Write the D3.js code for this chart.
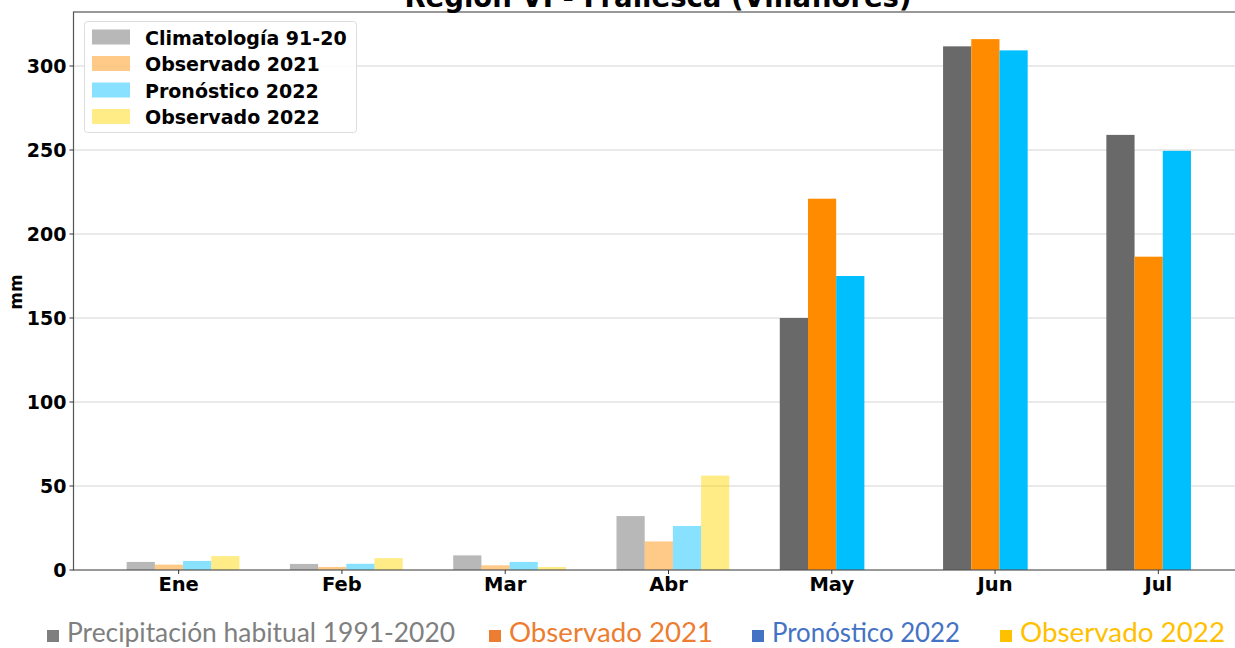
<!DOCTYPE html>
<html>
<head>
<meta charset="utf-8">
<script src="https://cdn.jsdelivr.net/npm/d3@7"></script>
<style>
  body { margin: 0; background: #fff; }
  svg { display: block; }
</style>
</head>
<body>
<svg id="chart" width="1235" height="648"></svg>
<script>
// months on the x axis
const months = ["Ene", "Feb", "Mar", "Abr", "May", "Jun", "Jul"];
// months already observed in 2022 (drawn faded)
const fadedMonths = ["Ene", "Feb", "Mar", "Abr"];

// precipitation in mm
const clim9120 = [4.8, 3.6, 8.7, 32.1, 150, 311.7, 259];
const obs2021 = [3.2, 1.8, 2.8, 17, 221, 316, 186.5];
const pron2022 = [5.4, 3.7, 4.8, 26.2, 175, 309.3, 249.5];
const obs2022 = [8.3, 7.1, 1.8, 56.2, null, null, null];

const seriesNames = ["Climatología 91-20", "Observado 2021", "Pronóstico 2022", "Observado 2022"];
const seriesColors = ["#696969", "#ff8c00", "#00bfff", "#ffd700"];
const seriesValues = [clim9120, obs2021, pron2022, obs2022];

const yTicks = [0, 50, 100, 150, 200, 250, 300];

const footerNames = ["Precipitación habitual 1991-2020", "Observado 2021", "Pronóstico 2022", "Observado 2022"];
const footerColors = ["#7f7f7f", "#ed7d31", "#4472c4", "#ffc000"];

const svg = d3.select("#chart");
const plotLeft = 73.5, plotTop = 12, plotRight = 1263, plotBottom = 570;

const x = d3.scaleBand()
  .domain(months)
  .range([97, 1240])
  .padding(0);

const xSub = d3.scaleBand()
  .domain(seriesNames)
  .range([-52, 60.8]);

const y = d3.scaleLinear()
  .domain([0, 300])
  .range([plotBottom, 66]);

const tickX = m => x(m) + x.bandwidth() / 2;

// grid
svg.append("g")
  .selectAll("line")
  .data(yTicks.filter(d => d > 0))
  .enter().append("line")
  .attr("x1", plotLeft).attr("x2", plotRight)
  .attr("y1", d => y(d)).attr("y2", d => y(d))
  .attr("stroke", "#d4d4d4")
  .attr("stroke-width", 1);

// bars
const rows = [];
seriesNames.forEach((s, i) => {
  months.forEach((m, j) => {
    const v = seriesValues[i][j];
    if (v == null) return;
    rows.push({ series: s, month: m, value: v, color: seriesColors[i] });
  });
});

svg.append("g")
  .selectAll("rect")
  .data(rows)
  .enter().append("rect")
  .attr("x", d => tickX(d.month) + xSub(d.series))
  .attr("width", xSub.bandwidth())
  .attr("y", d => y(d.value))
  .attr("height", d => y(0) - y(d.value))
  .attr("fill", d => d.color)
  .attr("fill-opacity", d => fadedMonths.includes(d.month) ? 0.47 : 1);

// frame
svg.append("rect")
  .attr("x", plotLeft).attr("y", plotTop)
  .attr("width", plotRight - plotLeft).attr("height", plotBottom - plotTop)
  .attr("fill", "none")
  .attr("stroke", "#555")
  .attr("stroke-width", 1.2);

// x axis
const xAxis = svg.append("g")
  .attr("transform", `translate(0,${plotBottom})`);
xAxis.selectAll("line")
  .data(months)
  .enter().append("line")
  .attr("x1", d => tickX(d)).attr("x2", d => tickX(d))
  .attr("y1", 0).attr("y2", 4)
  .attr("stroke", "#333");
xAxis.selectAll("text")
  .data(months)
  .enter().append("text")
  .attr("x", d => tickX(d))
  .attr("y", 21)
  .attr("text-anchor", "middle")
  .style("font", "bold 19.5px 'DejaVu Sans'")
  .text(d => d);

// y axis
const yAxis = svg.append("g");
yAxis.selectAll("line")
  .data(yTicks)
  .enter().append("line")
  .attr("x1", plotLeft - 4).attr("x2", plotLeft)
  .attr("y1", d => y(d)).attr("y2", d => y(d))
  .attr("stroke", "#333");
yAxis.selectAll("text")
  .data(yTicks)
  .enter().append("text")
  .attr("x", plotLeft - 7)
  .attr("y", d => y(d) + 7)
  .attr("text-anchor", "end")
  .style("font", "bold 19px 'DejaVu Sans'")
  .text(d => d);

svg.append("text")
  .attr("transform", "translate(22,292) rotate(-90)")
  .attr("text-anchor", "middle")
  .style("font", "bold 17px 'DejaVu Sans'")
  .text("mm");

// title (cut at the top, as in the source image)
svg.append("text")
  .attr("x", 658)
  .attr("y", 7)
  .attr("text-anchor", "middle")
  .style("font", "bold 27.5px 'DejaVu Sans'")
  .text("Región VI - Frailesca (Villaflores)");

// legend
const legend = svg.append("g");
legend.append("rect")
  .attr("x", 84.5).attr("y", 21.5)
  .attr("width", 272).attr("height", 111)
  .attr("rx", 3)
  .attr("fill", "#fff")
  .attr("fill-opacity", 0.85)
  .attr("stroke", "#ddd");
const items = legend.selectAll("g.item")
  .data(seriesNames)
  .enter().append("g")
  .attr("class", "item")
  .attr("transform", (d, i) => `translate(0,${37.5 + i * 26.5})`);
items.append("rect")
  .attr("x", 92).attr("y", -8)
  .attr("width", 38).attr("height", 15)
  .attr("fill", (d, i) => seriesColors[i])
  .attr("fill-opacity", 0.47);
items.append("text")
  .attr("x", 145)
  .attr("y", 7)
  .style("font", "bold 19px 'DejaVu Sans'")
  .text(d => d);

// footer legend
const footerX = [47, 489, 752, 1000];
const footerW = [388, 204, 188, 205];
const footer = svg.append("g")
  .selectAll("g")
  .data(footerNames)
  .enter().append("g");
footer.append("rect")
  .attr("x", (d, i) => footerX[i])
  .attr("y", 630)
  .attr("width", 12).attr("height", 12)
  .attr("fill", (d, i) => footerColors[i]);
footer.append("text")
  .attr("x", (d, i) => footerX[i] + 20)
  .attr("y", 642)
  .attr("textLength", (d, i) => footerW[i])
  .attr("lengthAdjust", "spacingAndGlyphs")
  .attr("fill", (d, i) => footerColors[i])
  .style("font", "26px Lato")
  .text(d => d);
</script>
</body>
</html>
